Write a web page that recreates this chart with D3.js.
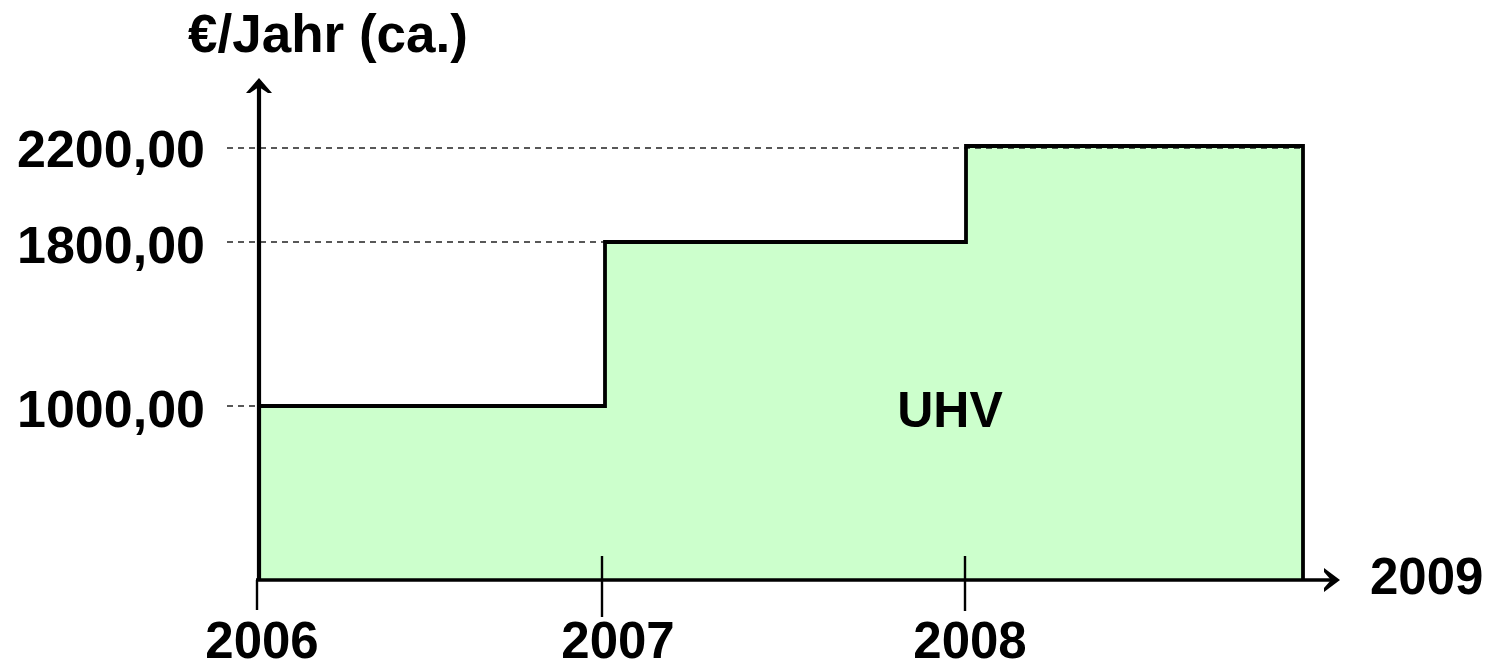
<!DOCTYPE html>
<html>
<head>
<meta charset="utf-8">
<script src="https://cdn.jsdelivr.net/npm/d3@7"></script>
<style>
  html, body { margin: 0; padding: 0; background: #fff; }
  svg { display: block; }
  text { font-family: "Liberation Sans", Arial, Helvetica, sans-serif; font-weight: bold; fill: #000; }
</style>
</head>
<body>
<script>
// ---- data ----
const years = [2006, 2007, 2008, 2009];          // segment boundaries
const values = [1000, 1800, 2200];               // €/Jahr per segment
const yearTickLabels = ["2006", "2007", "2008"];
const endLabel = "2009";
const valueTickLabels = ["1000,00", "1800,00", "2200,00"];
const yTitle = "€/Jahr (ca.)";
const areaLabel = "UHV";

const W = 1492, H = 669;
const svg = d3.select("body").append("svg").attr("width", W).attr("height", H);

// scales (piecewise to follow the hand-drawn spacing of the original)
const x = d3.scaleLinear().domain(years).range([259, 605, 966, 1303]);
const y = d3.scaleLinear().domain([0, 1000, 1800, 2200]).range([580, 406, 242, 146]);

// step data
const stepData = values.map((v, i) => ({ x0: years[i], x1: years[i + 1], v }));
const pts = [];
stepData.forEach(d => { pts.push([d.x0, d.v]); pts.push([d.x1, d.v]); });

// filled area
svg.append("path").datum(pts)
  .attr("d", d3.area().x(d => x(d[0])).y0(y(0)).y1(d => y(d[1])))
  .attr("fill", "#ccffcc");

// dashed reference lines (from the label side to where the level begins/ends)
const dashEnds = [x(years[0]), x(years[1]), x(years[3])];
values.forEach((v, i) => {
  const yy = y(v) + (i === 2 ? 2 : 0);
  svg.append("line")
    .attr("x1", 227).attr("x2", dashEnds[i])
    .attr("y1", yy).attr("y2", yy)
    .attr("stroke", "#222").attr("stroke-width", 1.4).attr("stroke-dasharray", "6,5");
});

// step outline
const outline = [[years[0], 0], ...pts, [years[years.length - 1], 0]];
svg.append("path")
  .datum(outline)
  .attr("d", d3.line().x(d => x(d[0])).y(d => y(d[1])))
  .attr("fill", "none").attr("stroke", "#000").attr("stroke-width", 3.8)
  .attr("stroke-linejoin", "miter");

// x axis
const xAxisEnd = 1340;
svg.append("line").attr("x1", x(years[0]) - 3).attr("x2", xAxisEnd - 6)
  .attr("y1", y(0)).attr("y2", y(0)).attr("stroke", "#000").attr("stroke-width", 3.5);
svg.append("path")
  .attr("d", `M${xAxisEnd},${y(0)} L${xAxisEnd - 16},${y(0) - 12} L${xAxisEnd - 16},${y(0) - 8} L${xAxisEnd - 9},${y(0)} L${xAxisEnd - 16},${y(0) + 8} L${xAxisEnd - 16},${y(0) + 12} Z`)
  .attr("fill", "#000");

// y axis
const yAxisTop = 78;
const ya = x(years[0]);
svg.append("line").attr("x1", ya).attr("x2", ya)
  .attr("y1", y(0) + 1).attr("y2", yAxisTop + 6).attr("stroke", "#000").attr("stroke-width", 4.2);
svg.append("path")
  .attr("d", `M${ya},${yAxisTop} L${ya - 13},${yAxisTop + 15} L${ya - 9},${yAxisTop + 15} L${ya},${yAxisTop + 9} L${ya + 9},${yAxisTop + 15} L${ya + 13},${yAxisTop + 15} Z`)
  .attr("fill", "#000");

// x ticks + labels
const tickShift = [-2, -3, -1];
const labelShift = [3, 13, 4];
const tickTop = [580, 556, 556];
const tickBottom = [610, 617, 611];
yearTickLabels.forEach((t, i) => {
  const xx = x(years[i]) + tickShift[i];
  svg.append("line").attr("x1", xx).attr("x2", xx)
    .attr("y1", tickTop[i]).attr("y2", tickBottom[i])
    .attr("stroke", "#000").attr("stroke-width", 2.4);
  svg.append("text").attr("x", x(years[i]) + labelShift[i]).attr("y", 658)
    .attr("text-anchor", "middle").attr("font-size", 51).text(t);
});
svg.append("text").attr("x", 1370).attr("y", 594).attr("font-size", 51).text(endLabel);

// y labels
valueTickLabels.forEach((t, i) => {
  svg.append("text").attr("x", 205).attr("y", y(values[i]) + 21)
    .attr("text-anchor", "end").attr("font-size", 52).text(t);
});

// titles
svg.append("text").attr("x", 188).attr("y", 52).attr("font-size", 53).text(yTitle);
svg.append("text").attr("x", 950).attr("y", 427).attr("text-anchor", "middle")
  .attr("font-size", 50).text(areaLabel);
</script>
</body>
</html>
